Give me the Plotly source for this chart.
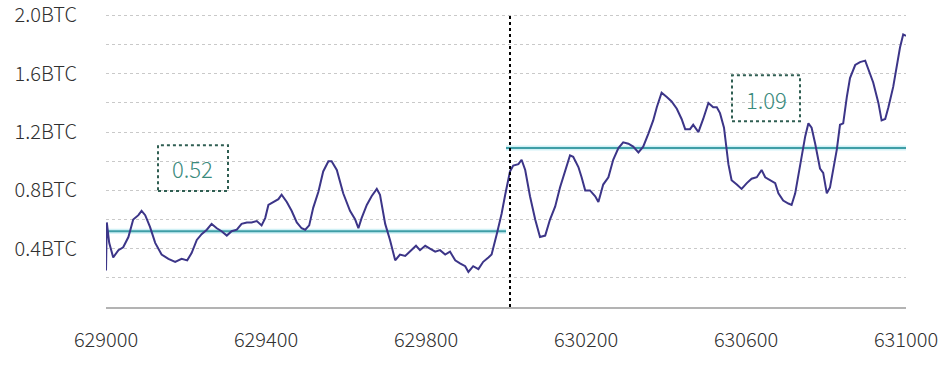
import plotly.graph_objects as go

# ---- data ----
blocks = [629000, 629002, 629008, 629018, 629031, 629043, 629056, 629068, 629081, 629089,
          629098, 629110, 629123, 629139, 629156, 629173, 629189, 629203, 629214, 629227,
          629239, 629252, 629264, 629277, 629289, 629302, 629314, 629327, 629339, 629352,
          629364, 629377, 629389, 629398, 629406, 629418, 629431, 629439, 629452, 629464,
          629477, 629489, 629498, 629508, 629518, 629531, 629543, 629556, 629564, 629577,
          629593, 629610, 629623, 629631, 629639, 629652, 629664, 629677, 629685, 629698,
          629710, 629723, 629735, 629748, 629760, 629775, 629785, 629798, 629810, 629823,
          629835, 629848, 629860, 629873, 629885, 629898, 629906, 629918, 629931, 629943,
          629956, 629964, 629977, 629989, 629998, 630010, 630018, 630031, 630039, 630048,
          630060, 630073, 630085, 630098, 630110, 630123, 630135, 630148, 630160, 630168,
          630181, 630189, 630198, 630210, 630223, 630231, 630243, 630256, 630268, 630281,
          630293, 630306, 630318, 630331, 630343, 630356, 630368, 630377, 630389, 630402,
          630414, 630427, 630439, 630448, 630460, 630468, 630481, 630493, 630506, 630518,
          630527, 630535, 630545, 630556, 630564, 630577, 630589, 630602, 630614, 630627,
          630639, 630648, 630660, 630673, 630681, 630693, 630706, 630714, 630723, 630735,
          630748, 630756, 630764, 630773, 630785, 630793, 630802, 630810, 630818, 630827,
          630835, 630843, 630852, 630860, 630873, 630885, 630898, 630906, 630918, 630931,
          630939, 630948, 630956, 630968, 630977, 630985, 630993, 631000]
btc = [0.25, 0.58, 0.44, 0.34, 0.39, 0.41, 0.48, 0.60, 0.63, 0.66,
       0.63, 0.55, 0.44, 0.36, 0.33, 0.31, 0.33, 0.32, 0.37, 0.46,
       0.50, 0.53, 0.57, 0.54, 0.52, 0.49, 0.52, 0.53, 0.57, 0.58,
       0.58, 0.59, 0.56, 0.61, 0.70, 0.72, 0.74, 0.77, 0.72, 0.66,
       0.58, 0.54, 0.53, 0.56, 0.68, 0.79, 0.93, 1.00, 1.00, 0.94,
       0.78, 0.66, 0.60, 0.54, 0.61, 0.70, 0.76, 0.81, 0.77, 0.57,
       0.46, 0.32, 0.36, 0.35, 0.38, 0.42, 0.39, 0.42, 0.40, 0.38,
       0.39, 0.36, 0.38, 0.32, 0.30, 0.28, 0.24, 0.28, 0.26, 0.31,
       0.34, 0.36, 0.50, 0.64, 0.77, 0.93, 0.97, 0.98, 1.01, 0.94,
       0.76, 0.60, 0.48, 0.49, 0.60, 0.69, 0.82, 0.94, 1.04, 1.03,
       0.96, 0.89, 0.80, 0.80, 0.76, 0.72, 0.84, 0.89, 1.01, 1.09,
       1.13, 1.12, 1.10, 1.06, 1.10, 1.19, 1.28, 1.37, 1.47, 1.44,
       1.41, 1.36, 1.29, 1.22, 1.22, 1.25, 1.20, 1.29, 1.40, 1.37,
       1.37, 1.33, 1.23, 0.98, 0.87, 0.84, 0.81, 0.85, 0.88, 0.89,
       0.94, 0.89, 0.87, 0.85, 0.78, 0.73, 0.71, 0.70, 0.78, 0.98,
       1.17, 1.26, 1.23, 1.12, 0.95, 0.92, 0.78, 0.82, 0.94, 1.08,
       1.25, 1.26, 1.44, 1.57, 1.66, 1.68, 1.69, 1.63, 1.54, 1.40,
       1.28, 1.29, 1.37, 1.51, 1.67, 1.78, 1.87, 1.86]

split_block = 630010
mean_starts = [629000, 630000]
mean_ends = [630000, 631000]
mean_values = [0.52, 1.09]
mean_labels = ["0.52", "1.09"]

x_ticks = [629000, 629400, 629800, 630200, 630600, 631000]
y_grid = [0.2, 0.4, 0.6, 0.8, 1.0, 1.2, 1.4, 1.6, 1.8, 2.0]
y_labels = ["", "0.4BTC", "", "0.8BTC", "", "1.2BTC", "", "1.6BTC", "", "2.0BTC"]

FONT = "Noto Sans CJK SC"
TEXT = "#303030"

fig = go.Figure()

for s, e, v in zip(mean_starts, mean_ends, mean_values):
    fig.add_trace(go.Scatter(x=[s, e], y=[v, v], mode="lines",
                             line=dict(color="rgba(150,225,235,0.45)", width=5),
                             hoverinfo="skip", showlegend=False))
    fig.add_trace(go.Scatter(x=[s, e], y=[v, v], mode="lines",
                             line=dict(color="#3f9ea6", width=2),
                             showlegend=False))

fig.add_trace(go.Scatter(x=blocks, y=btc, mode="lines",
                         line=dict(color="#3c3588", width=2),
                         showlegend=False))

# vertical split line
fig.add_shape(type="line", x0=split_block, x1=split_block, y0=0, y1=2.0,
              xref="x", yref="y", line=dict(color="black", width=2, dash="dot"))

# dotted label boxes
boxes = [
    (629130, 629305, 0.795, 1.11, 629217, 0.952),
    (630565, 630735, 1.274, 1.589, 630650, 1.43),
]
for (x0, x1, y0, y1, cx, cy), lab in zip(boxes, mean_labels):
    fig.add_shape(type="rect", x0=x0, x1=x1, y0=y0, y1=y1, xref="x", yref="y",
                  line=dict(color="#2f5e52", width=2, dash="dot"),
                  fillcolor="rgba(255,255,255,0)")
    fig.add_annotation(x=cx, y=cy, xref="x", yref="y", text=lab, showarrow=False,
                       font=dict(family=FONT, size=22, color="#3a8a7c", weight=300))

fig.update_layout(
    width=952, height=368,
    margin=dict(l=106, r=46, t=14, b=61, autoexpand=False),
    paper_bgcolor="white", plot_bgcolor="white",
    font=dict(family=FONT, size=20, color=TEXT, weight=300),
    showlegend=False,
)
fig.update_xaxes(range=[629000, 631000], tickvals=x_ticks,
                 ticktext=[str(t) for t in x_ticks],
                 showgrid=False, zeroline=False, showline=True,
                 linecolor="#b3b3b3", linewidth=1.5,
                 ticks="", ticklabelstandoff=14, automargin=False,
                 ticklabeloverflow="allow",
                 tickfont=dict(family=FONT, size=20, color=TEXT, weight=300))
fig.update_yaxes(range=[0, 2.01], tickvals=y_grid, ticktext=y_labels,
                 showgrid=True, gridcolor="#c9c9c9", griddash="dot", gridwidth=1,
                 zeroline=False, showline=False, ticks="",
                 ticklabelstandoff=28, automargin=False,
                 ticklabeloverflow="allow",
                 tickfont=dict(family=FONT, size=20, color=TEXT, weight=300))

fig.write_html("out.html", config={"displayModeBar": False},
               post_script="document.body.style.margin='0';document.body.style.overflow='hidden';")
